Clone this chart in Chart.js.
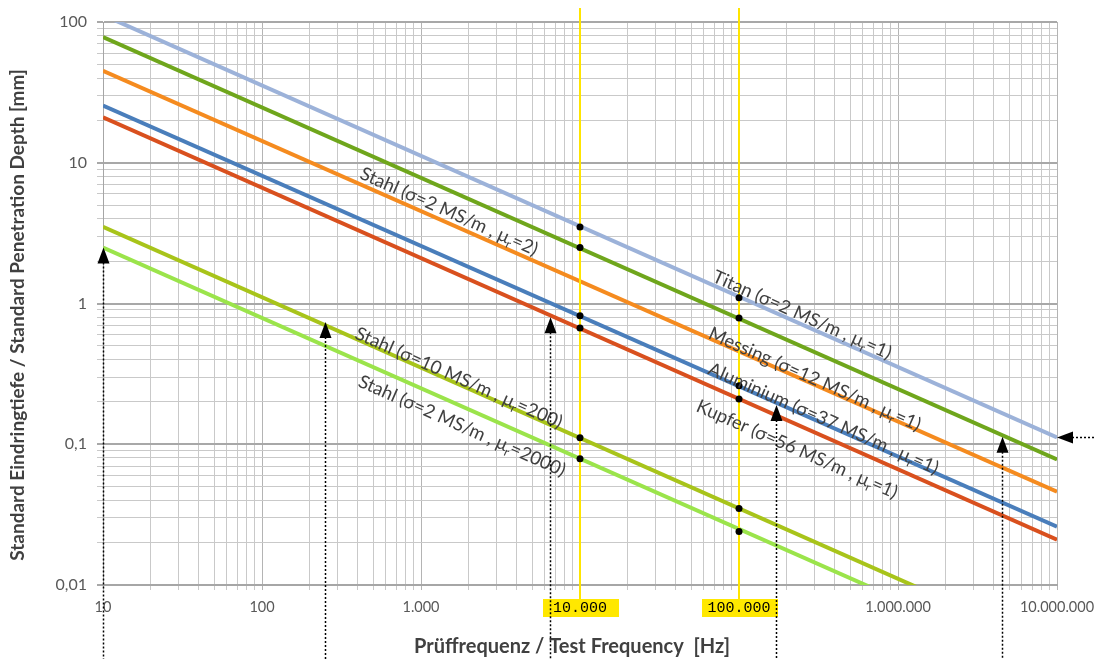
<!DOCTYPE html>
<html>
<head>
<meta charset="utf-8">
<title>Standard Eindringtiefe</title>
<script src="https://cdn.jsdelivr.net/npm/chart.js@4/dist/chart.umd.min.js"></script>
<style>
    html, body { margin: 0; padding: 0; background: #fff; }
    canvas { display: block; }
</style>
</head>
<body>
<canvas id="chart" width="1094" height="659"></canvas>
<script>
// ---------------- DONNEES ----------------

// Fréquences de début / fin des droites (Hz)
const frequencies = [10, 10000000];

// Profondeur de pénétration (mm) à 10 Hz et à 10 MHz
const titan = [112, 0.112];
const stahlMu2 = [78, 0.078];
const messing = [45, 0.046];
const aluminium = [25.5, 0.026];
const kupfer = [21, 0.021];
const stahlMu200 = [3.5, 0.0035];
const stahlMu2000 = [2.5, 0.0025];

// Points noirs sur les lignes jaunes
const markerFreqs = [10000, 100000];
const markersAt10k = [3.5, 2.5, 0.82, 0.67, 0.111, 0.079];
const markersAt100k = [1.1, 0.79, 0.26, 0.21, 0.035, 0.024];

// Flèches pointillées
const arrowUpFreqs = [10, 250, 6500, 170000, 4500000];
const arrowUpValues = [2.5, 0.74, 0.8, 0.19, 0.113];
const arrowLeftValue = 0.112;

// Axes
const xTickValues = [10, 100, 1000, 10000, 100000, 1000000, 10000000];
const xTickLabels = ['10', '100', '1.000', '10.000', '100.000', '1.000.000', '10.000.000'];
const xHighlighted = [10000, 100000];
const yTickValues = [0.01, 0.1, 1, 10, 100];
const yTickLabels = ['0,01', '0,1', '1', '10', '100'];
const xTitle = 'Prüffrequenz / Test Frequency  [Hz]';
const yTitle = 'Standard Eindringtiefe / Standard Penetration Depth [mm]';

// Libellés le long des droites : [avant indice, indice, après indice]
const lineLabels = [
    ['Stahl (σ=2 MS/m , μ', 'r', '=2)'],
    ['Titan (σ=2 MS/m , μ', 'r', '=1)'],
    ['Messing (σ=12 MS/m , μ', 'r', '=1)'],
    ['Aluminium (σ=37 MS/m , μ', 'r', '=1)'],
    ['Kupfer (σ=56 MS/m , μ', 'r', '=1)'],
    ['Stahl (σ=10 MS/m , μ', 'r', '=200)'],
    ['Stahl (σ=2 MS/m , μ', 'r', '=2000)']
];
const labelFreqs = [1500, 250000, 300000, 340000, 232000, 1730, 1810];
const labelValues = [4.5, 0.83, 0.29, 0.152, 0.092, 0.296, 0.135];


// ---------------- CONSTRUCTION ----------------

const isDecade = v => Math.abs(Math.log10(v) - Math.round(Math.log10(v))) < 1e-6;
const same = (a, b) => Math.abs(a - b) / b < 1e-6;
const isHighlighted = v => xHighlighted.some(h => same(v, h));

function logTicks(min, max) {
    const out = [];
    for (let e = Math.round(Math.log10(min)); e < Math.round(Math.log10(max)); e++) {
        for (let m = 1; m < 10; m++) out.push({ value: m * Math.pow(10, e) });
    }
    out.push({ value: max });
    return out;
}

function lineData(values) {
    return frequencies.map((f, i) => ({ x: f, y: values[i] }));
}

const markers = [];
markersAt10k.forEach(v => markers.push({ x: markerFreqs[0], y: v }));
markersAt100k.forEach(v => markers.push({ x: markerFreqs[1], y: v }));

const series = [
    { data: titan, color: '#9cb2d9' },
    { data: stahlMu2, color: '#6fa61c' },
    { data: messing, color: '#f58b1f' },
    { data: aluminium, color: '#4a7ebb' },
    { data: kupfer, color: '#d9501e' },
    { data: stahlMu200, color: '#a8c41a' },
    { data: stahlMu2000, color: '#9be44b' }
];

const datasets = [{
    data: markers,
    showLine: false,
    pointRadius: 3.5,
    pointBackgroundColor: '#000',
    pointBorderWidth: 0
}];
series.forEach(s => datasets.push({
    data: lineData(s.data),
    borderColor: s.color,
    borderWidth: 4,
    pointRadius: 0,
    tension: 0
}));

const FONT = 'Lato, "Open Sans", sans-serif';
const labelFont = '18.5px ' + FONT;
const subFont = '12px ' + FONT;

const annotations = {
    id: 'annotations',
    beforeDraw(chart) {
        // fonds jaunes des étiquettes 10.000 et 100.000
        const ctx = chart.ctx;
        const xs = chart.scales.x;
        ctx.save();
        ctx.fillStyle = '#ffe800';
        xHighlighted.forEach(f => {
            const px = xs.getPixelForValue(f);
            ctx.fillRect(px - 37, chart.chartArea.bottom + 14, 76, 18);
        });
        ctx.restore();
    },
    beforeDatasetDraw(chart, args) {
        // lignes jaunes sous les points noirs, au-dessus des droites
        if (args.index !== 0) return;
        const ctx = chart.ctx;
        const xs = chart.scales.x;
        ctx.save();
        ctx.strokeStyle = '#ffe500';
        ctx.lineWidth = 2;
        xHighlighted.forEach(f => {
            const px = Math.round(xs.getPixelForValue(f));
            ctx.beginPath();
            ctx.moveTo(px, 8);
            ctx.lineTo(px, chart.chartArea.bottom + 14);
            ctx.stroke();
        });
        ctx.restore();
    },
    afterDraw(chart) {
        const ctx = chart.ctx;
        const xs = chart.scales.x;
        const ys = chart.scales.y;
        const decX = xs.getPixelForValue(100) - xs.getPixelForValue(10);
        const decY = ys.getPixelForValue(0.1) - ys.getPixelForValue(1);
        const angle = Math.atan2(decY / 2, decX);

        // Titres des axes
        ctx.save();
        ctx.fillStyle = '#404040';
        ctx.textAlign = 'center';
        ctx.textBaseline = 'middle';
        ctx.font = 'bold 20px ' + FONT;
        ctx.fillText(xTitle, 572, 647);
        ctx.translate(18, 315);
        ctx.rotate(-Math.PI / 2);
        ctx.font = 'bold 19px ' + FONT;
        ctx.fillText(yTitle, 0, 0);
        ctx.restore();

        // Libellés inclinés
        ctx.save();
        ctx.fillStyle = '#404040';
        ctx.textBaseline = 'middle';
        lineLabels.forEach((parts, i) => {
            ctx.font = labelFont;
            const w1 = ctx.measureText(parts[0]).width;
            const w3 = ctx.measureText(parts[2]).width;
            ctx.font = subFont;
            const w2 = ctx.measureText(parts[1]).width;
            const total = w1 + w2 + w3;
            ctx.save();
            ctx.translate(xs.getPixelForValue(labelFreqs[i]), ys.getPixelForValue(labelValues[i]));
            ctx.rotate(angle);
            ctx.font = labelFont;
            ctx.fillText(parts[0], -total / 2, 0);
            ctx.font = subFont;
            ctx.fillText(parts[1], -total / 2 + w1, 6);
            ctx.font = labelFont;
            ctx.fillText(parts[2], -total / 2 + w1 + w2, 0);
            ctx.restore();
        });
        ctx.restore();

        // Flèches pointillées
        ctx.save();
        ctx.strokeStyle = '#000';
        ctx.fillStyle = '#000';
        ctx.lineWidth = 1.5;
        const H = chart.height;
        arrowUpFreqs.forEach((f, i) => {
            const px = Math.round(xs.getPixelForValue(f)) + 0.5;
            const tip = ys.getPixelForValue(arrowUpValues[i]);
            ctx.setLineDash([2, 2]);
            ctx.beginPath();
            ctx.moveTo(px, tip + 15);
            ctx.lineTo(px, H);
            ctx.stroke();
            ctx.setLineDash([]);
            ctx.beginPath();
            ctx.moveTo(px, tip);
            ctx.lineTo(px - 6, tip + 16);
            ctx.lineTo(px + 6, tip + 16);
            ctx.closePath();
            ctx.fill();
        });
        const lx = xs.getPixelForValue(frequencies[1]);
        const ly = Math.round(ys.getPixelForValue(arrowLeftValue)) + 0.5;
        ctx.setLineDash([2, 2]);
        ctx.beginPath();
        ctx.moveTo(lx + 15, ly);
        ctx.lineTo(chart.width, ly);
        ctx.stroke();
        ctx.setLineDash([]);
        ctx.beginPath();
        ctx.moveTo(lx, ly);
        ctx.lineTo(lx + 16, ly - 6);
        ctx.lineTo(lx + 16, ly + 6);
        ctx.closePath();
        ctx.fill();
        ctx.restore();
    }
};

new Chart(document.getElementById('chart'), {
    type: 'line',
    data: { datasets },
    plugins: [annotations],
    options: {
        responsive: false,
        animation: false,
        devicePixelRatio: 1,
        layout: { padding: { top: 22, right: 37, left: 0, bottom: 0 } },
        plugins: { legend: { display: false }, tooltip: { enabled: false } },
        scales: {
            x: {
                type: 'logarithmic',
                min: 10,
                max: 10000000,
                afterBuildTicks: scale => { scale.ticks = logTicks(10, 10000000); },
                afterFit: scale => {
                    scale.height = 74;
                    scale.paddingLeft = 0;
                    scale.paddingRight = 0;
                },
                grid: {
                    color: ctx => ctx.tick && isDecade(ctx.tick.value) ? '#b4b4b4' : '#c9c9c9',
                    lineWidth: 1,
                    tickLength: 5
                },
                border: { color: '#a6a6a6', width: 2 },
                ticks: {
                    autoSkip: false,
                    maxRotation: 0,
                    padding: 9,
                    color: ctx => isHighlighted(ctx.tick.value) ? '#000' : '#595959',
                    font: ctx => isHighlighted(ctx.tick.value)
                        ? { family: '"Liberation Mono", "DejaVu Sans Mono", monospace', size: 15 }
                        : { family: FONT, size: 14.5 },
                    callback: value => {
                        const i = xTickValues.findIndex(v => same(value, v));
                        return i >= 0 ? xTickLabels[i] : '';
                    }
                }
            },
            y: {
                type: 'logarithmic',
                min: 0.01,
                max: 100,
                afterBuildTicks: scale => { scale.ticks = logTicks(0.01, 100); },
                afterFit: scale => {
                    scale.width = 103;
                    scale.paddingTop = 0;
                    scale.paddingBottom = 0;
                },
                grid: {
                    color: ctx => ctx.tick && isDecade(ctx.tick.value) ? '#a8a8a8' : '#c9c9c9',
                    lineWidth: ctx => ctx.tick && isDecade(ctx.tick.value) ? 2 : 1,
                    tickLength: 6
                },
                border: { color: '#a6a6a6', width: 1 },
                ticks: {
                    autoSkip: false,
                    padding: 10,
                    color: '#595959',
                    font: { family: FONT, size: 16 },
                    callback: value => {
                        const i = yTickValues.findIndex(v => same(value, v));
                        return i >= 0 ? yTickLabels[i] : '';
                    }
                }
            }
        }
    }
});
</script>
</body>
</html>
